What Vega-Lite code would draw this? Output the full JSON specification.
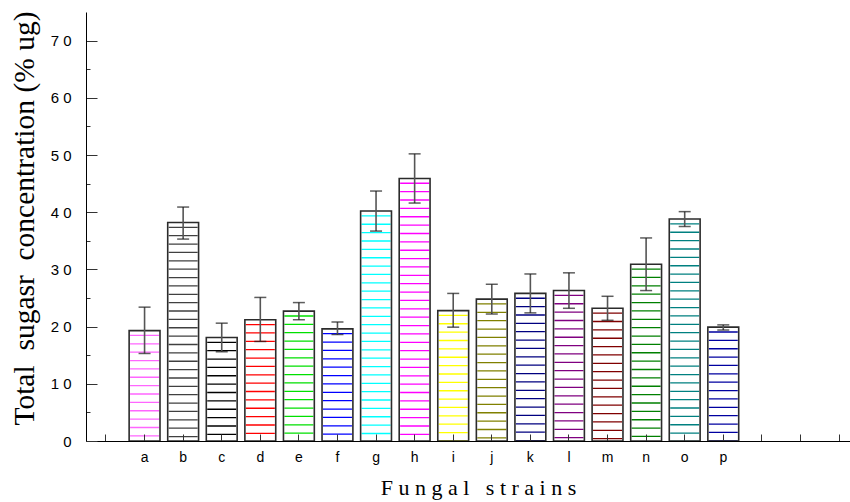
{
  "$schema": "https://vega.github.io/schema/vega-lite/v6.json",
  "width": 764,
  "height": 429,
  "autosize": {"type": "none"},
  "padding": {"left": 86, "top": 12, "right": 0, "bottom": 61},
  "background": "white",
  "config": {
    "view": {"stroke": null},
    "axis": {"grid": false},
    "axisY": {
      "titleFont": "Liberation Serif",
      "titleFontSize": 29.5,
      "titleFontWeight": "normal",
      "titleColor": "black",
      "titleX": -52.5,
      "titleY": 206,
      "titleBaseline": "alphabetic",
      "labelFont": "Liberation Sans",
      "labelFontSize": 15,
      "labelColor": "black",
      "labelPadding": 26,
      "tickColor": "#333",
      "tickWidth": 1,
      "domainColor": "black",
      "domainWidth": 1
    }
  },
  "data": {
    "values": [
      {"strain": "a", "mean": 19.3, "lo": 15.3, "hi": 23.4},
      {"strain": "b", "mean": 38.2, "lo": 35.3, "hi": 40.9},
      {"strain": "c", "mean": 18.1, "lo": 15.6, "hi": 20.6},
      {"strain": "d", "mean": 21.2, "lo": 17.4, "hi": 25.1},
      {"strain": "e", "mean": 22.7, "lo": 21.2, "hi": 24.2},
      {"strain": "f", "mean": 19.6, "lo": 18.6, "hi": 20.8},
      {"strain": "g", "mean": 40.2, "lo": 36.7, "hi": 43.7},
      {"strain": "h", "mean": 45.9, "lo": 41.6, "hi": 50.2},
      {"strain": "i", "mean": 22.8, "lo": 19.9, "hi": 25.8},
      {"strain": "j", "mean": 24.8, "lo": 22.2, "hi": 27.4},
      {"strain": "k", "mean": 25.8, "lo": 22.4, "hi": 29.2},
      {"strain": "l", "mean": 26.3, "lo": 23.2, "hi": 29.4},
      {"strain": "m", "mean": 23.2, "lo": 21.1, "hi": 25.3},
      {"strain": "n", "mean": 30.9, "lo": 26.3, "hi": 35.5},
      {"strain": "o", "mean": 38.8, "lo": 37.5, "hi": 40.1},
      {"strain": "p", "mean": 19.9, "lo": 19.4, "hi": 20.3}
    ]
  },
  "encoding": {
    "x": {
      "field": "strain",
      "type": "nominal",
      "scale": {
        "domain": ["_0", "a", "b", "c", "d", "e", "f", "g", "h", "i", "j", "k", "l", "m", "n", "o", "p", "_1", "_2", "_3"],
        "range": [0, 773],
        "paddingInner": 0.2,
        "paddingOuter": 0.118
      },
      "axis": {
        "title": "F\u00a0u\u00a0n\u00a0g\u00a0a\u00a0l\u00a0\u00a0\u00a0s\u00a0t\u00a0r\u00a0a\u00a0i\u00a0n\u00a0s",
        "titleFont": "Liberation Serif",
        "titleFontSize": 22,
        "titleFontWeight": "normal",
        "titleColor": "black",
        "titleX": 392,
        "titleY": 53,
        "titleBaseline": "alphabetic",
        "labelExpr": "indexof(datum.label, '_') === 0 ? '' : datum.label",
        "labelFont": "Liberation Sans",
        "labelFontSize": 14,
        "labelColor": "black",
        "labelAngle": 0,
        "labelPadding": 16,
        "tickSize": -7,
        "tickColor": "#333",
        "tickWidth": 1,
        "domainColor": "black",
        "domainWidth": 1,
        "zindex": 1
      }
    },
    "y": {
      "field": "mean",
      "type": "quantitative",
      "scale": {"domain": [0, 75], "nice": false},
      "axis": {
        "title": "Total\u00a0 sugasr\u00a0 concentration (% ug)",
        "values": [0, 5, 10, 15, 20, 25, 30, 35, 40, 45, 50, 55, 60, 65, 70],
        "labelExpr": "datum.value % 10 === 0 ? (datum.value === 0 ? '0' : (datum.value / 10) + ' 0') : ''",
        "tickSize": {"condition": {"test": "datum.value % 10 === 0", "value": -11}, "value": -4},
        "zindex": 1
      }
    }
  },
  "layer": [
    {
      "mark": {"type": "rule", "strokeWidth": 29, "strokeDash": [1.3, 7.07], "strokeDashOffset": 4.2, "strokeCap": "butt"},
      "encoding": {
        "y2": {"datum": 0},
        "color": {
          "field": "strain",
          "type": "nominal",
          "scale": {
            "domain": ["a", "b", "c", "d", "e", "f", "g", "h", "i", "j", "k", "l", "m", "n", "o", "p"],
            "range": ["#ff66ff", "#404040", "#000000", "#ff0000", "#00e000", "#0000ff", "#00ffff", "#ff00ff", "#ffff00", "#808000", "#000080", "#800080", "#800000", "#008000", "#008080", "#0000a0"]
          },
          "legend": null
        }
      }
    },
    {
      "mark": {"type": "bar", "fill": "white", "fillOpacity": 0, "stroke": "#2b2b2b", "strokeWidth": 1.6}
    },
    {
      "mark": {"type": "rule", "stroke": "#555555", "strokeWidth": 1.6},
      "encoding": {
        "y": {"field": "lo", "type": "quantitative"},
        "y2": {"field": "hi"}
      }
    },
    {
      "mark": {"type": "tick", "color": "#1a1a1a", "size": 12, "thickness": 1.5, "orient": "horizontal"},
      "encoding": {
        "y": {"field": "hi", "type": "quantitative"}
      }
    },
    {
      "mark": {"type": "tick", "color": "#1a1a1a", "size": 12, "thickness": 1.5, "orient": "horizontal"},
      "encoding": {
        "y": {"field": "lo", "type": "quantitative"}
      }
    }
  ]
}
